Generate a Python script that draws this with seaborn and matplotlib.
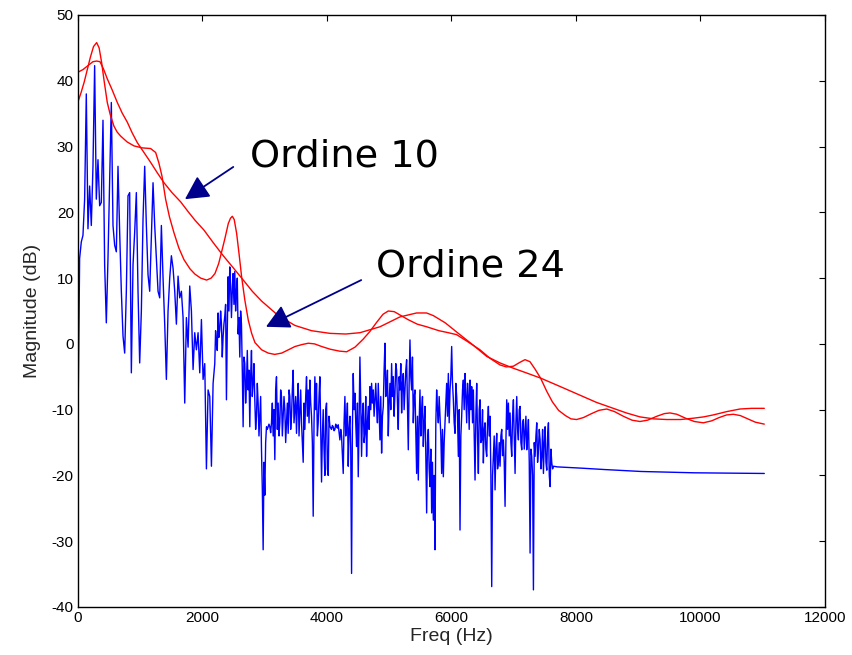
import numpy as np
import pandas as pd
import matplotlib
matplotlib.use("Agg")
import matplotlib.pyplot as plt
import seaborn as sns

# Magnitude spectrum (dB). Low band: one value every LOW_STEP Hz from 0 Hz.
LOW_STEP = 26.8
low_band_db = [
    -12.5, 13, 15.5, 16.5, 22, 38, 17.5, 24, 18, 27,
    42.3, 22, 28, 21, 21.5, 34, 12, 3.2, 13, 25,
    36.7, 18, 15, 14, 27, 17, 8, 1.2, -1.4, 8,
    22.5, 23, -4.4, 12, 17, 23, 8, -2.9, 5, 19,
    27, 18, 10.5, 8, 16, 24.5, 18, 13, 8, 7,
    18, 10, 3, -5.4, 5, 10, 13.4, 11.5, 8, 3,
    10.3, 7, 8, 4, -9, 4, -0.5, 8.8, 5, -3.9,
    1.7, -0.9, 1.7, -4.4, 3.7, -5.4,
    -3, -19, -7, -8, -18.6, -6,
]
# High band: one value every HIGH_STEP Hz from HIGH_START Hz up to the cut-off
HIGH_START = 2197.6
HIGH_STEP = 13.4
high_band_db = [
    -3, 2, 0, -1, 4.7, 1, 2.1, 5, 3.1, -2, 1.1, 3, 4.2, 6, -8.5, 2,
    10.2, 5, 11.7, 9, 4, 8, 10.7, 6, 11, 5, 8, 10, 1.5, 4, -2, 5, 3, -4,
    -12.6, -2, -3, -9, -6, -1, -7, -4, -12.6, -5, -1, -8, -6, -3,
    -8.5, -13, -11, -6, -9, -14, -11, -8, -16, -22, -31.3, -18, -23, -15,
    -12.6, -13, -12.6, -12.2, -12.6, -13.5, -12, -9, -14, -10, -17.6, -7,
    -5, -13, -9, -14, -12, -7, -8, -14, -11, -8, -10, -15, -12, -9,
    -13.6, -7, -8, -13, -11, -7, -4, -12, -10, -8, -13.6, -9, -6, -14,
    -10.5, -7, -12, -15, -18, -9, -13, -8, -5, -11, -7, -12, -5.5, -9,
    -11, -15, -26.2, -12, -5, -10, -6, -14, -12, -8, -5, -13, -21, -14,
    -10, -16, -20, -10, -9, -19, -20, -11, -12.5, -12.8, -13, -12.4,
    -12.6, -13.2, -13, -12.2, -12.6, -12.8, -12.3, -13.5, -14.6, -13,
    -14, -17, -19.7, -12, -8, -14, -12, -9, -18.6, -13, -11, -16,
    -34.9, -13, -4.5, -10, -7.5, -12, -15.6, -9, -20.2, -12, -2, -9,
    -17.1, -11, -9, -15, -13.6, -8, -17.1, -12, -9.5, -13, -6.5, -10,
    -6, -9, -7, -11, -8.5, -6, -9.5, -12, -6, -10, -14.6, -8, -16.6, -11,
    -9.5, -4, 0.1, -8, -7, -4, -14, -9, -6, -10, -3, -8, -5, -11,
    -7.5, -3, -4, -9, -13, -5, -7, -3, -10.5, -6, -4.5, -10, -7, -4,
    -2.4, -9, -16.1, -6, 0.6, -5, -7, -2, -12, -8, -7, -13, -19.7, -11,
    -20.7, -12, -7, -14, -10, -8, -15.6, -12, -9.5, -17, -25.7, -15,
    -13, -19, -21.7, -16, -25.7, -18, -26.8, -20, -31.3, -12, -7, -10,
    -12, -8, -11, -14, -19.7, -13, -20.2, -15, -12, -9, -6, -11, -4.5, -12,
    -7, -5, -0.4, -6, -8.5, -12, -13.6, -6, -8, -11, -17.1, -10, -28.3, -14,
    -11, -7, -5.5, -10, -4.5, -8, -12, -6, -8, -13, -5.5, -10, -6.5, -12,
    -7, -14, -20.7, -11, -6, -14, -19.7, -10, -8.5, -15, -14.6, -10,
    -18.1, -13, -12, -16, -17.1, -12, -9.5, -14, -11, -20, -36.9, -20,
    -17.1, -14, -22.2, -16, -13.6, -19, -18.1, -15, -18.6, -14, -13, -17,
    -14.6, -18, -24.7, -15, -8.5, -13, -9, -14, -10.5, -15, -17.1, -11,
    -8.5, -14, -19.7, -12, -8, -13, -14.6, -10, -9.5, -15, -16.1, -12,
    -11.5, -16, -13.6, -11, -16.1, -14, -11.5, -18, -31.8, -16, -17.1, -20,
    -37.4, -15, -17.1, -14, -12, -18, -16.1, -13, -14.6, -19, -17.1, -13,
    -19.7, -15, -12.6, -18, -19.2, -14, -12, -20, -21.7, -16, -18.1, -19,
    -18.6,
]
# Band above the low-pass cut-off
tail_hz = [7700, 8100, 8450, 9050, 9900, 11025]
tail_db = [-18.7, -18.9, -19.1, -19.4, -19.6, -19.7]

# LPC envelope, order 10
lpc10_hz = [0, 80, 160, 240, 300, 354, 410, 471, 550, 632, 710, 793, 870, 953,
            1060, 1167, 1275, 1382, 1510, 1649, 1770, 1880, 2024, 2180, 2334,
            2500, 2656, 2800, 2951, 3218, 3486, 3754, 4048, 4300, 4530, 4851,
            5172, 5440, 5600, 5708, 5900, 6110, 6350, 6565, 6780, 6993, 7200,
            7431, 7750, 8064, 8330, 8600, 8810, 9028, 9250, 9457, 9680, 9885,
            10050, 10206, 10420, 10635, 10820, 11025]
lpc10_db = [41.3, 41.7, 42.3, 42.9, 43.0, 42.9, 41.8, 40.3, 38.6, 36.7, 35.1,
            33.7, 32.1, 30.6, 29.1, 27.6, 26.0, 24.5, 23.0, 21.6, 20.1, 18.8,
            17.3, 15.3, 13.4, 11.5, 9.7, 8.0, 6.5, 4.3, 2.8, 2.0, 1.6, 1.5,
            1.7, 2.6, 4.1, 4.7, 4.7, 4.3, 3.2, 1.6, -0.2, -1.9, -2.9, -3.7,
            -4.4, -5.2, -6.5, -7.8, -8.9, -9.8, -10.5, -11.1, -11.4, -11.5,
            -11.5, -11.3, -11.1, -10.8, -10.3, -9.9, -9.8, -9.8]

# LPC envelope, order 24
lpc24_hz = [0, 50, 100, 150, 200, 250, 300, 340, 380, 420, 471, 520, 578, 630,
            685, 790, 900, 1030, 1167, 1248, 1300, 1350, 1408, 1470, 1542,
            1620, 1703, 1800, 1880, 1971, 2067, 2140, 2201, 2260, 2308, 2360,
            2415, 2450, 2479, 2510, 2549, 2590, 2629, 2680, 2736, 2790, 2843,
            2950, 3057, 3160, 3272, 3380, 3486, 3600, 3700, 3800, 3915, 4048,
            4200, 4316, 4450, 4580, 4691, 4800, 4900, 4985, 5080, 5172, 5300,
            5450, 5601, 5800, 5950, 6083, 6250, 6458, 6620, 6779, 6880, 6993,
            7100, 7181, 7260, 7340, 7431, 7530, 7620, 7720, 7830, 7920, 8010,
            8120, 8250, 8370, 8493, 8620, 8760, 8900, 9028, 9150, 9300, 9420,
            9510, 9620, 9760, 9900, 10046, 10180, 10300, 10420, 10528, 10640,
            10760, 10880, 11025]
lpc24_db = [36.8, 38.2, 39.8, 41.7, 43.6, 45.2, 45.8, 45.0, 42.8, 40.0, 36.7,
            34.8, 33.1, 32.2, 31.6, 30.7, 30.1, 29.8, 29.7, 29.1, 27.5, 25.5,
            22.0, 19.3, 16.9, 14.6, 12.8, 11.4, 10.6, 10.0, 9.7, 10.0, 10.7,
            12.2, 14.0, 16.0, 18.3, 19.1, 19.4, 18.9, 16.8, 13.5, 10.2, 6.7,
            3.6, 1.6, 0.2, -0.9, -1.4, -1.6, -1.4, -0.9, -0.4, -0.1, 0.1, 0.0,
            -0.4, -0.8, -1.1, -1.2, -0.5, 0.7, 1.9, 3.3, 4.5, 5.0, 4.9, 4.4,
            3.7, 3.0, 2.6, 2.0, 1.7, 1.4, 0.4, -0.9, -2.2, -3.2, -3.5, -3.4,
            -2.8, -2.4, -2.7, -3.8, -5.2, -7.2, -8.8, -10.1, -10.9, -11.4,
            -11.5, -11.2, -10.6, -10.1, -9.9, -10.3, -11.0, -11.6, -11.8, -11.6,
            -11.0, -10.6, -10.5, -10.7, -11.3, -11.8, -12.0, -11.7, -11.2,
            -10.8, -10.7, -10.9, -11.4, -11.9, -12.2]

x_ticks = [0, 2000, 4000, 6000, 8000, 10000, 12000]
y_ticks = [-40, -30, -20, -10, 0, 10, 20, 30, 40, 50]

low_hz = np.arange(len(low_band_db)) * LOW_STEP
high_hz = HIGH_START + np.arange(len(high_band_db)) * HIGH_STEP
spectrum = pd.DataFrame({
    "freq": np.concatenate([low_hz, high_hz, tail_hz]),
    "mag": np.concatenate([low_band_db, high_band_db, tail_db]),
})
env10 = pd.DataFrame({"freq": lpc10_hz, "mag": lpc10_db})
env24 = pd.DataFrame({"freq": lpc24_hz, "mag": lpc24_db})

sns.set_theme(style="white")
plt.rcParams["font.family"] = ["Liberation Sans", "DejaVu Sans"]

fig = plt.figure(figsize=(8.52, 6.55), dpi=100)
ax = fig.add_axes([0.0915, 0.0733, 0.8768, 0.9038])

sns.lineplot(data=spectrum, x="freq", y="mag", color="#0000FF", lw=1.0,
             sort=False, estimator=None, ax=ax)
sns.lineplot(data=env10, x="freq", y="mag", color="#FF0000", lw=1.0,
             sort=False, estimator=None, ax=ax)
sns.lineplot(data=env24, x="freq", y="mag", color="#FF0000", lw=1.0,
             sort=False, estimator=None, ax=ax)

ax.set_xlim(0, 12000)
ax.set_ylim(-40, 50)
ax.set_xticks(x_ticks)
ax.set_yticks(y_ticks)
ax.set_xticklabels([str(t) for t in x_ticks])
ax.set_yticklabels([str(t) for t in y_ticks])
ax.set_xlabel("Freq (Hz)", fontsize=14, labelpad=2)
ax.set_ylabel("Magnitude (dB)", fontsize=14, labelpad=8)
ax.tick_params(direction="in", length=4.5, width=0.8, labelsize=11,
               top=True, right=True, colors="black", pad=3)
for sp in ax.spines.values():
    sp.set_color("black")
    sp.set_linewidth(1.0)

arrow_kw = dict(arrowstyle="-|>,head_length=0.72,head_width=0.38",
                color="#00008C", lw=1.3, mutation_scale=20,
                shrinkA=0, shrinkB=0)
ax.annotate("", xy=(1719, 22.0), xytext=(2495, 26.9), arrowprops=arrow_kw)
ax.annotate("", xy=(3020, 2.6), xytext=(4550, 9.7), arrowprops=arrow_kw)
ax.text(2763, 26.9, "Ordine 10", fontsize=27.5, family="DejaVu Sans",
        ha="left", va="baseline", color="black")
ax.text(4787, 10.2, "Ordine 24", fontsize=27.5, family="DejaVu Sans",
        ha="left", va="baseline", color="black")

fig.savefig("out.png", dpi=100, facecolor="white")
